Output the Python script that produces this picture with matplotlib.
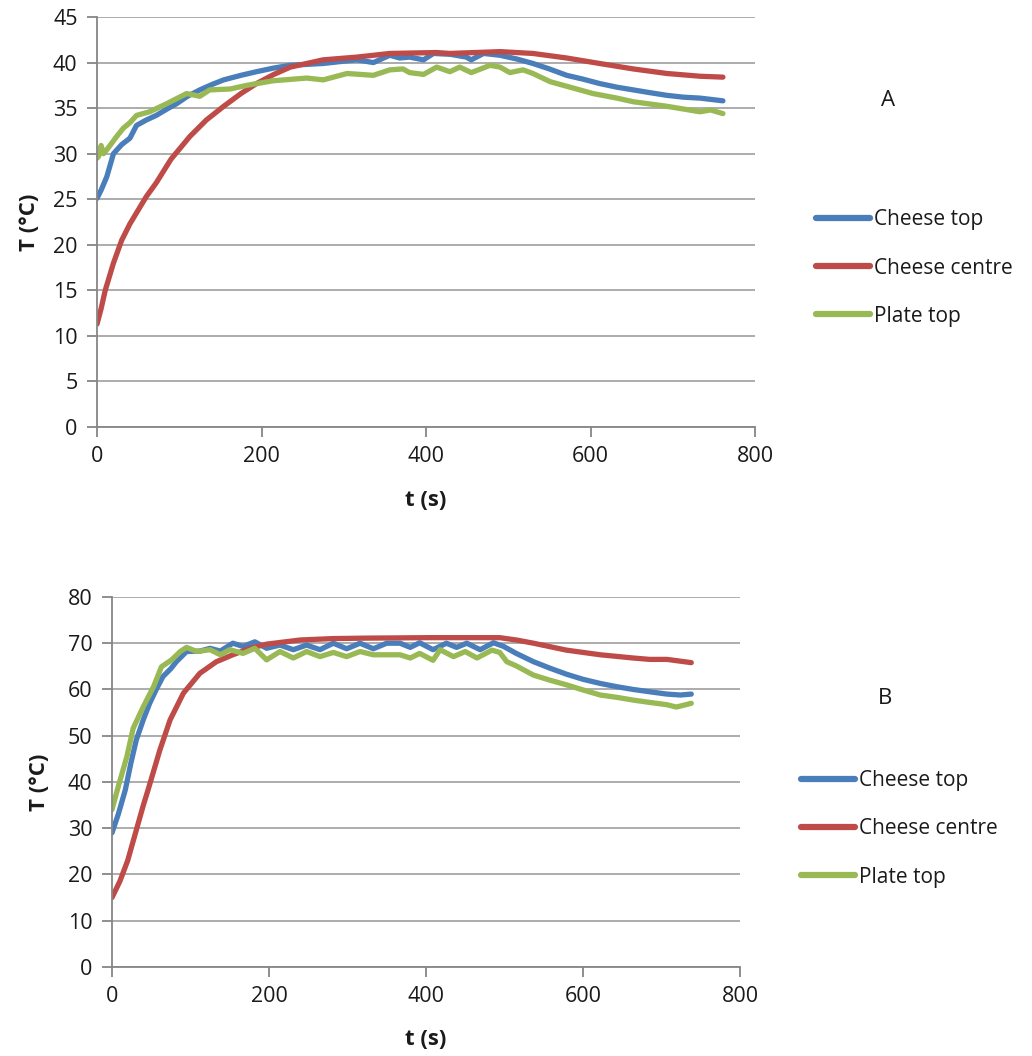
import matplotlib.pyplot as plt

# Panel A readings (t in s, T in degC)
tA_top = [0, 5, 12, 20, 30, 40, 48, 60, 72, 85, 97, 110, 125, 140, 154, 175, 194, 215, 235, 255, 275, 295, 316, 336,
          356, 368, 380, 397, 409, 430, 449, 455, 470, 490, 510, 530, 550, 571, 590, 611, 632, 652, 672, 693, 713, 733, 761]
TA_top = [25.1, 26.0, 27.5, 30.0, 31.0, 31.7, 33.1, 33.7, 34.2, 34.9, 35.5, 36.3, 37.0, 37.6, 38.1, 38.6, 39.0, 39.4, 39.7,
          39.8, 39.9, 40.1, 40.3, 40.0, 40.8, 40.5, 40.6, 40.3, 41.0, 40.9, 40.6, 40.3, 41.0, 40.8, 40.4, 39.9, 39.3, 38.6,
          38.2, 37.7, 37.3, 37.0, 36.7, 36.4, 36.2, 36.1, 35.8]

tA_centre = [0, 5, 10, 20, 30, 40, 50, 60, 72, 90, 113, 133, 154, 175, 194, 215, 235, 255, 275, 316, 356, 413, 429,
             490, 530, 571, 611, 652, 693, 733, 761]
TA_centre = [11.3, 13.0, 15.0, 18.0, 20.5, 22.3, 23.8, 25.3, 26.8, 29.4, 31.9, 33.7, 35.2, 36.6, 37.7, 38.7, 39.5, 39.9,
             40.3, 40.6, 41.0, 41.1, 41.0, 41.2, 41.0, 40.5, 39.9, 39.3, 38.8, 38.5, 38.4]

tA_plate = [0, 2, 5, 8, 15, 24, 32, 40, 48, 64, 85, 109, 125, 137, 162, 182, 214, 255, 275, 304, 336, 356, 372, 380,
            397, 413, 429, 441, 455, 478, 490, 502, 518, 530, 551, 571, 603, 632, 652, 693, 733, 746, 761]
TA_plate = [29.5, 29.7, 30.9, 30.0, 30.8, 31.9, 32.8, 33.4, 34.2, 34.6, 35.5, 36.6, 36.3, 37.0, 37.1, 37.5, 38.0, 38.3,
            38.1, 38.8, 38.6, 39.2, 39.3, 38.9, 38.7, 39.5, 39.0, 39.5, 38.9, 39.7, 39.5, 38.9, 39.2, 38.8, 37.9, 37.4,
            36.6, 36.1, 35.7, 35.2, 34.6, 34.8, 34.4]

# Panel B readings
tB_top = [0, 8, 17, 24, 31, 40, 48, 57, 65, 75, 82, 95, 112, 125, 138, 154, 167, 182, 197, 214, 231, 248, 265, 282,
          299, 316, 333, 350, 367, 380, 392, 409, 426, 439, 452, 469, 486, 499, 515, 537, 558, 579, 600, 622, 643, 664,
          685, 707, 724, 738]
TB_top = [29.0, 33.0, 38.3, 44.0, 49.1, 53.5, 57.0, 60.2, 62.8, 64.5, 66.0, 68.2, 68.3, 68.9, 68.3, 70.0, 69.3, 70.3,
          68.9, 69.6, 68.6, 69.6, 68.6, 70.0, 68.8, 70.0, 68.8, 70.0, 70.0, 69.1, 70.1, 68.6, 70.0, 69.1, 70.0, 68.6,
          70.1, 69.3, 67.8, 66.0, 64.6, 63.3, 62.2, 61.3, 60.6, 60.0, 59.5, 59.0, 58.8, 59.0]

tB_centre = [0, 10, 20, 30, 40, 46, 61, 74, 91, 112, 133, 154, 176, 197, 240, 282, 324, 405, 494, 515, 537, 579, 622,
             664, 685, 707, 738]
TB_centre = [15.0, 18.5, 23.0, 29.0, 35.0, 38.3, 46.9, 53.4, 59.2, 63.5, 66.0, 67.5, 68.9, 69.8, 70.7, 71.0, 71.1, 71.2,
             71.2, 70.7, 70.0, 68.5, 67.5, 66.8, 66.5, 66.5, 65.8]

tB_plate = [0, 8, 19, 27, 40, 53, 63, 76, 87, 95, 108, 125, 138, 150, 167, 182, 197, 214, 231, 248, 265, 282, 299, 316,
            333, 354, 367, 380, 392, 409, 418, 435, 450, 465, 484, 494, 503, 515, 537, 558, 579, 600, 622, 643, 664, 685,
            707, 719, 738]
TB_plate = [34.0, 39.0, 45.5, 51.6, 56.3, 60.6, 64.9, 66.4, 68.2, 69.1, 68.2, 68.6, 67.5, 68.6, 67.8, 68.9, 66.4, 68.2,
            66.8, 68.2, 67.1, 68.0, 67.1, 68.2, 67.5, 67.5, 67.5, 66.8, 67.8, 66.3, 68.6, 67.1, 68.2, 66.8, 68.5, 68.0,
            66.0, 65.1, 63.1, 62.0, 61.0, 59.9, 58.8, 58.3, 57.7, 57.2, 56.7, 56.2, 57.0]

names = ['Cheese top', 'Cheese centre', 'Plate top']
colors = ['#4A7EBB', '#BE4B48', '#98B954']

plt.rcParams['font.family'] = ['Open Sans', 'DejaVu Sans']
grid_c = '#A6A6A6'
axis_c = '#868686'
text_c = '#1a1a1a'


def panel(rect, series, ymax, ystep, letter, letter_xy, leg_xy, ylab_x, xlab_y):
    ax = fig.add_axes(rect)
    for (t, T), name, c in zip(series, names, colors):
        ax.plot(t, T, color=c, lw=3.8, label=name, solid_capstyle='round', solid_joinstyle='round')
    ax.set_xlim(0, 800)
    ax.set_ylim(0, ymax)
    ax.set_xticks(range(0, 801, 200))
    ax.set_yticks(range(0, ymax + 1, ystep))
    ax.grid(axis='y', color=grid_c, lw=1.3)
    ax.set_axisbelow(True)
    for s in ['top', 'right']:
        ax.spines[s].set_visible(False)
    for s in ['left', 'bottom']:
        ax.spines[s].set_color(axis_c)
        ax.spines[s].set_linewidth(1.3)
    ax.tick_params(colors=axis_c, labelcolor=text_c, labelsize=15.5, length=7, width=1.3, pad=7)
    ax.set_xlabel('t (s)', fontsize=16, fontweight='bold', color=text_c, va='center')
    ax.set_ylabel('T (°C)', fontsize=16, fontweight='bold', color=text_c, va='center')
    ax.yaxis.set_label_coords(ylab_x, 0.5)
    ax.xaxis.set_label_coords(0.5, xlab_y)
    fig.text(letter_xy[0], letter_xy[1], letter, fontsize=16, ha='center', va='center', color=text_c)
    leg = ax.legend(loc='center left', bbox_to_anchor=leg_xy, bbox_transform=fig.transFigure, frameon=False,
                    fontsize=15, handlelength=2.6, labelspacing=1.3, handletextpad=0.2, borderpad=0.4)
    for h in leg.get_lines():
        h.set_linewidth(4.5)
        h.set_solid_capstyle('round')
    for tx in leg.get_texts():
        tx.set_color(text_c)
    return ax


fig = plt.figure(figsize=(10.32, 10.56), dpi=100)
panel([0.094, 0.5956, 0.6376, 0.3883], [(tA_top, TA_top), (tA_centre, TA_centre), (tA_plate, TA_plate)],
      45, 5, 'A', (888 / 1032, 1 - 100 / 1056), (797 / 1032, 1 - 268 / 1056), -0.102, -0.178)
panel([0.1085, 0.0843, 0.6085, 0.3504], [(tB_top, TB_top), (tB_centre, TB_centre), (tB_plate, TB_plate)],
      80, 10, 'B', (885 / 1032, 1 - 698 / 1056), (782 / 1032, 1 - 829 / 1056), -0.116, -0.197)

fig.savefig('out.png', dpi=100)
